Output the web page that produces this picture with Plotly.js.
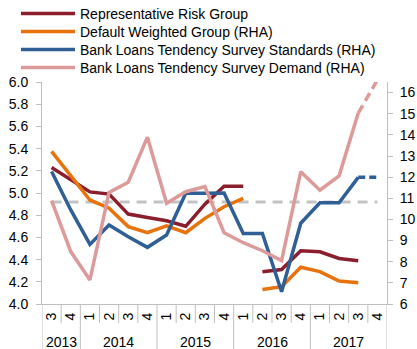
<!DOCTYPE html>
<html><head><meta charset="utf-8">
<script src="https://cdn.plot.ly/plotly-3.0.1.min.js"></script>
<style>html,body{margin:0;padding:0;background:#fff}#chart{width:417px;height:349px}</style>
</head><body><div id="chart"></div>
<script>
// Categories
const years    = ['2013','2013','2014','2014','2014','2014','2015','2015','2015','2015','2016','2016','2016','2016','2017','2017','2017','2017'];
const quarters = ['3','4','1','2','3','4','1','2','3','4','1','2','3','4','1','2','3','4'];

// Series (left axis)
const representativeRisk = [5.23,5.12,5.01,4.99,4.81,4.78,4.75,4.70,4.90,5.06,5.06,4.29,4.31,4.48,4.47,4.41,4.39,null];
// Series (right axis)
const defaultWeighted = [13.22,12.05,10.92,10.53,9.66,9.37,9.70,9.37,10.05,10.60,11.00,6.69,6.82,7.74,7.53,7.09,7.01,null];
const surveyStandards = [12.27,10.45,8.82,9.74,9.18,8.68,9.26,11.24,11.24,11.25,9.34,9.34,6.58,9.82,10.79,10.79,11.99,11.99];
const surveyDemand    = [10.89,8.48,7.14,11.28,11.76,13.89,10.76,11.31,11.55,9.37,8.90,8.52,8.05,12.26,11.38,12.06,15.03,16.6];
// Reference level (left axis)
const averageLevel = 4.92;

const seriesBreak = 11;     // first point of the new series (2016 Q2)
const lastActual = 16;      // last non-projected point (2017 Q3)

const cats = years.map((y, i) => y + ' Q' + quarters[i]);
const before = (arr, k) => arr.map((v, i) => i < k ? v : null);
const from   = (arr, k) => arr.map((v, i) => i >= k ? v : null);
const upTo   = (arr, k) => arr.map((v, i) => i <= k ? v : null);

const C = {red:'#8b1e2d', orange:'#e8720c', blue:'#2f5f94', pink:'#dd9a9a', gray:'#c3c3c3'};
const W = 3.5;

const traces = [
  {x:cats, y: cats.map(() => averageLevel), yaxis:'y', mode:'lines', line:{color:C.gray, width:3, dash:'10px,7px'}, showlegend:false},
  {x:cats, y: before(representativeRisk, seriesBreak), yaxis:'y', mode:'lines', name:'Representative Risk Group', line:{color:C.red, width:W}, legend:'legend'},
  {x:cats, y: from(representativeRisk, seriesBreak), yaxis:'y', mode:'lines', line:{color:C.red, width:W}, showlegend:false},
  {x:cats, y: before(defaultWeighted, seriesBreak), yaxis:'y2', mode:'lines', name:'Default Weighted Group (RHA)', line:{color:C.orange, width:W}, legend:'legend2'},
  {x:cats, y: from(defaultWeighted, seriesBreak), yaxis:'y2', mode:'lines', line:{color:C.orange, width:W}, showlegend:false},
  {x:cats, y: upTo(surveyStandards, lastActual), yaxis:'y2', mode:'lines', name:'Bank Loans Tendency Survey Standards (RHA)', line:{color:C.blue, width:W}, legend:'legend3'},
  {x:cats, y: from(surveyStandards, lastActual), yaxis:'y2', mode:'lines', line:{color:C.blue, width:W, dash:'7px,4px'}, showlegend:false},
  {x:cats, y: upTo(surveyDemand, lastActual), yaxis:'y2', mode:'lines', name:'Bank Loans Tendency Survey Demand (RHA)', line:{color:C.pink, width:W}, legend:'legend4'},
  {x:cats, y: from(surveyDemand, lastActual), yaxis:'y2', mode:'lines', line:{color:C.pink, width:W, dash:'9px,5px'}, showlegend:false}
];

// plot area: top 82px, bottom 304px (height 222), left 42px, right 387px
const PT = 82, PB = 304, PH = PB - PT;
const py = pix => (PB - pix) / PH;
const legendRow = (top) => ({x:-0.0754, xanchor:'left', y:py(top), yanchor:'top', bgcolor:'rgba(0,0,0,0)', borderwidth:0,
                             itemwidth:54, font:{size:14, color:'#000'}});

const axisCol = '#bfbfbf';

// year labels, year dividers and quarter separators below the axis
const uniqYears = [...new Set(years)];
const annotations = uniqYears.map(yr => {
  const idx = years.map((v, i) => v === yr ? i : -1).filter(i => i >= 0);
  return {xref:'x', yref:'paper', x:(idx[0] + idx[idx.length - 1]) / 2, y:py(341.5), text:yr, showarrow:false,
          xanchor:'center', yanchor:'middle', font:{size:14, color:'#000'}};
});
const shapes = [];
for (let i = 0; i <= years.length; i++) {
  const yearEdge = i === 0 || i === years.length || years[i] !== years[i - 1];
  shapes.push({type:'line', xref:'x', yref:'paper', x0:i - 0.5, x1:i - 0.5, y0:0, y1:py(yearEdge ? 349 : 323),
               line:{color:axisCol, width:1}});
}

const layout = {
  width:417, height:349,
  margin:{l:42, r:30, t:PT, b:349 - PB, pad:0, autoexpand:false},
  paper_bgcolor:'#fff', plot_bgcolor:'#fff',
  font:{family:'"Liberation Sans", Arial, sans-serif', size:14, color:'#000'},
  showlegend:true,
  legend:legendRow(-2), legend2:legendRow(16), legend3:legendRow(34), legend4:legendRow(52),
  xaxis:{type:'category', range:[-0.5, cats.length - 0.5], tickvals:cats, ticktext:quarters, showline:true, linecolor:axisCol, linewidth:1,
         ticks:'', tickangle:-90, ticklabelstandoff:2, showgrid:false, tickfont:{size:14}},
  yaxis:{range:[4,6], dtick:0.2, tickformat:'.1f', showline:true, linecolor:axisCol, ticks:'outside', ticklen:5, tickcolor:axisCol,
         ticklabelstandoff:5, showgrid:false, zeroline:false},
  yaxis2:{overlaying:'y', side:'right', range:[6,16.5], dtick:1, showline:true, linecolor:axisCol, ticks:'outside', ticklen:5, tickcolor:axisCol,
          ticklabelstandoff:4, showgrid:false, zeroline:false},
  annotations, shapes
};
Plotly.newPlot('chart', traces, layout, {staticPlot:true, displayModeBar:false});
</script></body></html>
